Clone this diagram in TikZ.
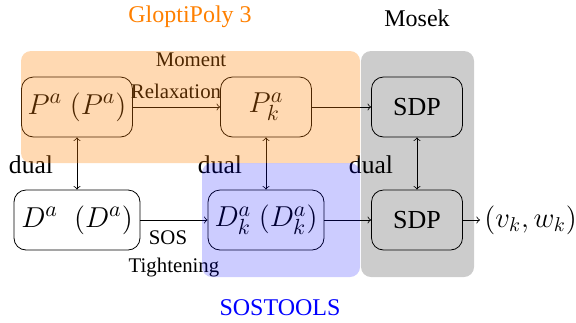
\documentclass[tikz,border=0pt]{standalone}
\usepackage{fontspec}
\setmainfont{Liberation Serif}
\begin{document}
\begin{tikzpicture}[x=0.5pt,y=-0.5pt,
  blk/.style={draw=black,rounded corners=6pt,minimum height=30pt,inner sep=0pt,font=\fontsize{13}{15}\selectfont},
  mblk/.style={blk,font=\fontsize{15}{17}\selectfont},
  lbl/.style={font=\fontsize{10.4}{12}\selectfont,inner sep=0pt},
  ttl/.style={font=\fontsize{12}{14}\selectfont,inner sep=0pt},
  dl/.style={font=\fontsize{12.8}{15}\selectfont,inner sep=0pt},
  arr/.style={->},
  darr/.style={<->}]
\useasboundingbox (0,0) rectangle (576,322);
\node[mblk,minimum width=55.5pt] (Pa) at (77,107) {$P^a~(P^a)$};
\node[mblk,minimum width=45.5pt] (Pk) at (266,107) {$P^a_k$};
\node[blk,minimum width=45.5pt] (S1) at (417,107) {SDP};
\node[mblk,minimum width=63pt] (Da) at (77,220) {$D^a\;\;(D^a)$};
\node[mblk,minimum width=58pt] (Dk) at (266,220) {$D^a_k~(D^a_k)$};
\node[blk,minimum width=45.5pt] (S2) at (417,220) {SDP};
\node[font=\fontsize{14.5}{17}\selectfont,inner sep=2pt,anchor=west] (vw) at (480,220) {$(v_k,w_k)$};
\draw[arr] (Pa) -- (Pk);
\draw[arr] (Pk) -- (S1);
\draw[arr] (Da) -- (Dk);
\draw[arr] (Dk) -- (S2);
\draw[arr] (S2) -- (vw);
\draw[darr] (Pa) -- (Da);
\draw[darr] (Pk) -- (Dk);
\draw[darr] (S1) -- (S2);
\node[lbl] (mo) at (191,60) {Moment};
\node[lbl] (re) at (176,91) {Relaxation};
\node[lbl] (so) at (168,238) {SOS};
\node[lbl] (ti) at (174,268) {Tightening};
\node[dl] (d1) at (31,165) {dual};
\node[dl] (d2) at (220,165) {dual};
\node[dl] (d3) at (371,165) {dual};
\node[ttl,text={rgb,255:red,255;green,128;blue,0}] (gp) at (190,17) {GloptiPoly 3};
\node[ttl] (mk) at (417,18) {Mosek};
\node[ttl,text=blue] (st) at (280,308) {SOSTOOLS};
\fill[orange,opacity=0.3,rounded corners=5pt] (21,51) rectangle (360,163);
\fill[blue,opacity=0.2,rounded corners=5pt] (202,163) rectangle (360,277);
\fill[black,opacity=0.2,rounded corners=5pt] (361,51) rectangle (474,277);
\end{tikzpicture}
\end{document}
